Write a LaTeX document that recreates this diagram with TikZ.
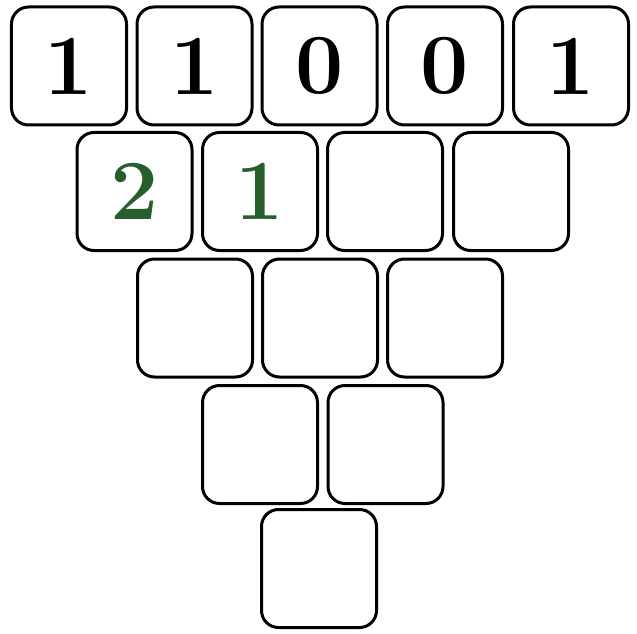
\documentclass[tikz,border=0pt]{standalone}
\usetikzlibrary{positioning}
\definecolor{dgreen}{RGB}{38,94,44}
\begin{document}
\begin{tikzpicture}[x=1bp,y=-1bp,
  cell/.style={draw=black,line width=3bp,rounded corners=17bp,fill=white,
    minimum width=115bp,minimum height=118bp,inner sep=0pt,
    font=\fontsize{86}{86}\selectfont\bfseries},
  gnum/.style={text=dgreen}]
\useasboundingbox (0,0) rectangle (637,634);
% row 1
\node[cell] (a1) at (69,66) {1};
\node[cell] (a2) at (194.5,66) {1};
\node[cell] (a3) at (319.5,66) {0};
\node[cell] (a4) at (445,66) {0};
\node[cell] (a5) at (571,66) {1};
% row 2
\node[cell,gnum] (b1) at (134.5,191.5) {2};
\node[cell,gnum] (b2) at (260,191.5) {1};
\node[cell] (b3) at (385,191.5) {};
\node[cell] (b4) at (511,191.5) {};
% row 3
\node[cell] (c1) at (195,318) {};
\node[cell] (c2) at (320,318) {};
\node[cell] (c3) at (445,318) {};
% row 4
\node[cell] (d1) at (260,444.5) {};
\node[cell] (d2) at (385.5,444.5) {};
% row 5
\node[cell] (e1) at (319,568.5) {};
\end{tikzpicture}
\end{document}
